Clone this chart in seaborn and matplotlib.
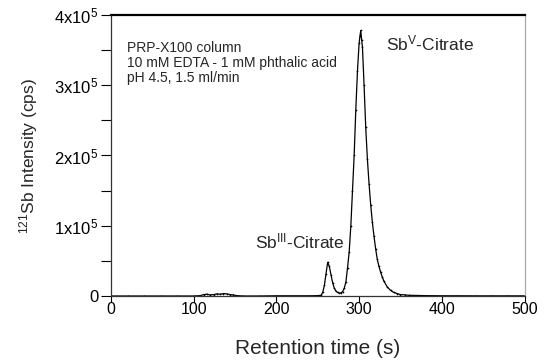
import matplotlib
matplotlib.use("Agg")
import matplotlib.pyplot as plt
from matplotlib.ticker import MultipleLocator, FixedLocator
import seaborn as sns
import pandas as pd

# Retention time (s)
time_s = [0, 20, 40, 60, 80, 100, 108, 112, 116, 120, 124, 128, 132, 136, 140,
          144, 148, 152, 160, 180, 200, 220, 240, 250, 254, 256, 258, 260, 262,
          264, 266, 268, 270, 272, 274, 276, 278, 280, 282, 284, 286, 288, 290,
          292, 294, 296, 298, 300, 301, 302, 303, 304, 306, 308, 310, 312, 314,
          316, 318, 320, 322, 324, 326, 328, 330, 334, 338, 342, 346, 350, 356,
          360, 380, 400, 420, 440, 460, 480, 500]
# 121Sb intensity (units of 1e5 cps)
intensity_e5 = [0, 0, 0, 0, 0, 0, 0.005, 0.02, 0.025, 0.015, 0.02, 0.03, 0.025,
                0.035, 0.03, 0.02, 0.015, 0.005, 0, 0, 0.003, 0.003, 0.003, 0.005,
                0.01, 0.05, 0.15, 0.32, 0.48, 0.42, 0.30, 0.19, 0.11, 0.07, 0.05,
                0.04, 0.045, 0.06, 0.11, 0.20, 0.40, 0.63, 1.00, 1.50, 2.00, 2.65,
                3.20, 3.60, 3.70, 3.78, 3.65, 3.55, 3.00, 2.40, 1.95, 1.60, 1.30,
                1.05, 0.85, 0.67, 0.52, 0.42, 0.34, 0.27, 0.21, 0.13, 0.08, 0.05,
                0.035, 0.02, 0.015, 0.01, 0.005, 0.003, 0.003, 0.002, 0.002, 0.002, 0.002]

y_ticks = [0, 1e5, 2e5, 3e5, 4e5]
y_tick_labels = ["0", r"$\mathregular{1x10^5}$", r"$\mathregular{2x10^5}$",
                 r"$\mathregular{3x10^5}$", r"$\mathregular{4x10^5}$"]
x_ticks = [0, 100, 200, 300, 400, 500]

conditions = ["PRP-X100 column", "10 mM EDTA - 1 mM phthalic acid", "pH 4.5, 1.5 ml/min"]

df = pd.DataFrame({"t": time_s, "I": [v * 1e5 for v in intensity_e5]})

sns.set_style("ticks")
plt.rcParams["font.family"] = ["Liberation Sans", "DejaVu Sans"]
plt.rcParams["mathtext.fontset"] = "custom"
plt.rcParams["mathtext.rm"] = "Liberation Sans"
plt.rcParams["mathtext.it"] = "Liberation Sans:italic"
plt.rcParams["mathtext.bf"] = "Liberation Sans:bold"

fig = plt.figure(figsize=(5.49, 3.63), dpi=100)
ax = fig.add_axes([0.2022, 0.1846, 0.9554 - 0.2022, 0.9587 - 0.1846])

sns.lineplot(data=df, x="t", y="I", ax=ax, color="black", linewidth=0.9,
             marker=".", markersize=2.5, markeredgewidth=0)

ax.set_xlim(0, 500)
ax.set_ylim(0, 4e5)
ax.xaxis.set_major_locator(FixedLocator(x_ticks))
ax.set_yticks(y_ticks)
ax.set_yticklabels(y_tick_labels)
ax.yaxis.set_minor_locator(MultipleLocator(0.5e5))

ax.tick_params(axis="x", which="major", direction="out", length=4, width=0.8,
               labelsize=11.5, pad=0.5, colors="black")
ax.tick_params(axis="y", which="both", direction="out", length=7, width=0.8,
               labelsize=12, pad=2, colors="black")

for side in ["left", "bottom"]:
    ax.spines[side].set_color("#333333")
    ax.spines[side].set_linewidth(0.9)
ax.spines["top"].set_visible(True)
ax.spines["top"].set_color("black")
ax.spines["top"].set_linewidth(1.6)
ax.spines["right"].set_visible(True)
ax.spines["right"].set_color("#aaaaaa")
ax.spines["right"].set_linewidth(0.9)

ax.set_xlabel("Retention time (s)", fontsize=15, labelpad=16)
ax.set_ylabel(r"$\mathregular{^{121}}$Sb Intensity (cps)", fontsize=12.5, labelpad=10)

for i, line in enumerate(conditions):
    ax.text(19, 3.53e5 - i * 0.21e5, line, fontsize=10, ha="left", va="center")

ax.text(333, 3.6e5, r"Sb$\mathregular{^{V}}$-Citrate", fontsize=12.5, ha="left", va="center")
ax.text(174, 0.77e5, r"Sb$\mathregular{^{III}}$-Citrate", fontsize=12.5, ha="left", va="center")

fig.savefig("out.png", dpi=100)
